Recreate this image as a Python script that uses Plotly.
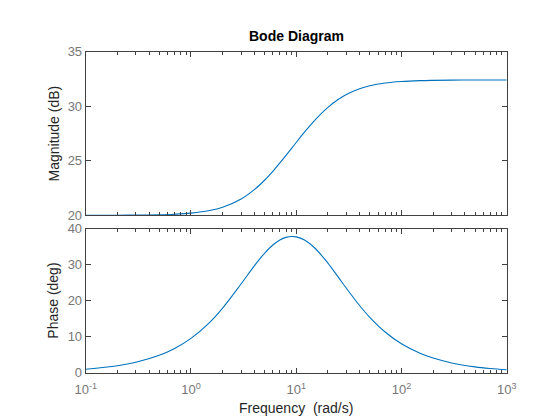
import plotly.graph_objects as go

# Data
freq = [0.1, 0.2, 0.3, 0.5, 0.7, 1, 1.5, 2, 3, 4, 5, 6, 7, 8, 9, 10, 12, 15, 20, 25,
        30, 40, 50, 70, 100, 150, 200, 300, 500, 700, 1000]
mag_db = [20.002, 20.008, 20.018, 20.051, 20.099, 20.199, 20.434, 20.740, 21.499, 22.352,
          23.214, 24.037, 24.798, 25.491, 26.116, 26.677, 27.627, 28.710, 29.896, 30.619,
          31.082, 31.607, 31.878, 32.130, 32.270, 32.348, 32.375, 32.395, 32.404, 32.407, 32.409]
phase_deg = [0.973, 1.943, 2.912, 4.836, 6.737, 9.52, 13.93, 17.95, 24.70, 29.69,
             33.17, 35.46, 36.86, 37.59, 37.84, 37.73, 36.84, 34.64, 30.45, 26.64,
             23.45, 18.67, 15.38, 11.30, 8.02, 5.395, 4.059, 2.711, 1.629, 1.163, 0.815]

x_tickvals = [0.1, 1, 10, 100, 1000]
x_ticktext = ["10<sup>-1</sup>", "10<sup>0</sup>", "10<sup>1</sup>", "10<sup>2</sup>", "10<sup>3</sup>"]
x_minor = [m * d for d in [0.1, 1, 10, 100] for m in range(2, 10)]
mag_ticks = [20, 25, 30, 35]
phase_ticks = [0, 10, 20, 30, 40]

title_text = "Bode Diagram"
mag_label = "Magnitude (dB)"
phase_label = "Phase (deg)"
freq_label = "Frequency  (rad/s)"

LINE = "#0072BD"
AXC = "#404040"
TICKC = "#777777"
FONT = "Liberation Sans, Arial, sans-serif"

W, H = 560, 420
x0, x1 = 85.7 / W, 506.7 / W
top_dom = [1 - 215.3 / H, 1 - 51.7 / H]
bot_dom = [1 - 372.7 / H, 1 - 228.7 / H]

fig = go.Figure()
fig.add_trace(go.Scatter(x=freq, y=mag_db, mode="lines", line=dict(color=LINE, width=1.1, shape="spline"),
                         xaxis="x", yaxis="y", showlegend=False, hoverinfo="skip"))
fig.add_trace(go.Scatter(x=freq, y=phase_deg, mode="lines", line=dict(color=LINE, width=1.1, shape="spline"),
                         xaxis="x2", yaxis="y2", showlegend=False, hoverinfo="skip"))

xcommon = dict(type="log", range=[-1, 3], domain=[x0, x1], showgrid=False, zeroline=False, automargin=False,
               showline=True, linecolor=AXC, linewidth=1, mirror="allticks",
               ticks="inside", ticklen=5, tickcolor=AXC, tickwidth=1,
               tickvals=x_tickvals, ticktext=x_ticktext,
               minor=dict(tickvals=x_minor, ticks="inside", ticklen=3, tickcolor=AXC, tickwidth=1, showgrid=False),
               tickfont=dict(family=FONT, size=13, color=TICKC))
ycommon = dict(showgrid=False, zeroline=False, showline=True, linecolor=AXC, linewidth=1, mirror="allticks",
               automargin=False, ticks="inside", ticklen=5, tickcolor=AXC, tickwidth=1,
               tickfont=dict(family=FONT, size=13, color=TICKC))

fig.update_layout(
    template="none",
    width=W, height=H, margin=dict(l=0, r=0, t=0, b=0, pad=0),
    paper_bgcolor="white", plot_bgcolor="white",
    xaxis=dict(xcommon, anchor="y", showticklabels=False),
    yaxis=dict(ycommon, domain=top_dom, range=[20, 35], tickvals=mag_ticks, anchor="x"),
    xaxis2=dict(xcommon, anchor="y2", ticklabelstandoff=5),
    yaxis2=dict(ycommon, domain=bot_dom, range=[0, 40], tickvals=phase_ticks, anchor="x2"),
    annotations=[
        dict(text="<b>" + title_text + "</b>", x=(x0 + x1) / 2, y=1 - 36 / H, xref="paper", yref="paper",
             showarrow=False, font=dict(family=FONT, size=14, color="black"), xanchor="center", yanchor="middle"),
        dict(text=mag_label, x=53 / W, y=(top_dom[0] + top_dom[1]) / 2, xref="paper", yref="paper",
             textangle=-90, showarrow=False, font=dict(family=FONT, size=14, color="#262626"),
             xanchor="center", yanchor="middle"),
        dict(text=phase_label, x=53 / W, y=(bot_dom[0] + bot_dom[1]) / 2, xref="paper", yref="paper",
             textangle=-90, showarrow=False, font=dict(family=FONT, size=14, color="#262626"),
             xanchor="center", yanchor="middle"),
        dict(text=freq_label, x=(x0 + x1) / 2, y=1 - 408 / H, xref="paper", yref="paper",
             showarrow=False, font=dict(family=FONT, size=14, color="#262626"), xanchor="center", yanchor="middle"),
    ],
)

fig.write_html("out.html")
